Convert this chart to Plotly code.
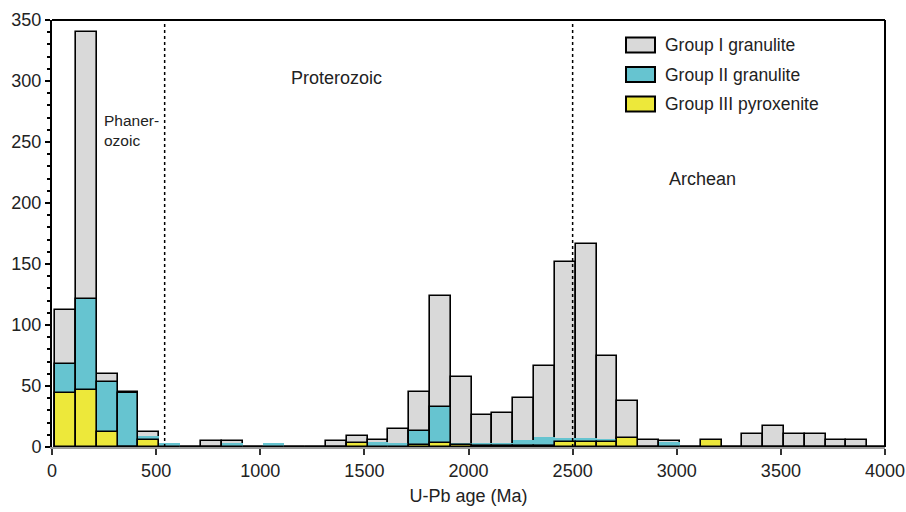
import plotly.graph_objects as go

# ---- data ----
bin_start = list(range(0, 4000, 100))  # U-Pb age bins (Ma), 100 Ma wide

group1 = [112, 340, 60, 45, 12, 0, 0, 5, 5, 0,
          0, 0, 0, 5, 9, 6, 15, 45, 124, 57,
          26, 28, 40, 66, 152, 166, 75, 38, 6, 5,
          0, 0, 0, 11, 17, 11, 11, 6, 6, 0]
group2 = [68, 121, 53, 44, 9, 3.5, 0, 0, 3.5, 0,
          3.5, 0, 0, 0, 0, 4, 3.5, 13, 33, 3,
          3, 3, 6, 8, 7, 7, 6.5, 0, 0, 4,
          0, 0, 0, 0, 0, 0, 0, 0, 0, 0]
group3 = [44, 47, 12, 0, 6, 0, 0, 0, 0, 0,
          0, 0, 0, 0, 3, 0, 0, 1.5, 3, 2,
          1, 1, 1, 1, 4, 4, 4, 7, 0, 0,
          0, 6, 0, 0, 0, 0, 0, 0, 0, 0]

series_names = ["Group I granulite", "Group II granulite", "Group III pyroxenite"]
eon_bounds = [541, 2500]
x_ticks = [0, 500, 1000, 1500, 2000, 2500, 3000, 3500, 4000]
y_ticks = [0, 50, 100, 150, 200, 250, 300, 350]

# ---- styles ----
colors = ["#d9d9d9", "#66c4d0", "#ede83a"]
FONT = "Liberation Sans, Arial, sans-serif"
BAR_SHIFT = 15


def outline_widths(vals, thresh):
    return [1.6 if v >= thresh else 0 for v in vals]


fig = go.Figure()
for vals, name, col, th in zip([group1, group2, group3], series_names, colors, [0, 10, 0]):
    fig.add_trace(go.Bar(
        x=bin_start, y=vals, width=100, offset=BAR_SHIFT, name=name,
        marker=dict(color=col, line=dict(color="black", width=outline_widths(vals, th))),
        showlegend=False,
    ))

# eon boundaries
for b in eon_bounds:
    fig.add_shape(type="line", xref="x", yref="y", x0=b, x1=b, y0=0, y1=350,
                  line=dict(color="black", width=1.5, dash="dot"))

# frame top / right
fig.add_shape(type="line", xref="paper", yref="paper", x0=0, x1=1, y0=1, y1=1,
              line=dict(color="black", width=2))
fig.add_shape(type="line", xref="paper", yref="paper", x0=1, x1=1, y0=0, y1=1,
              line=dict(color="black", width=2))

# manual legend
PW, PH, L, T = 833.0, 427.0, 52.0, 20.0
rows_y = [45, 74.5, 104]
for name, col, ry in zip(series_names, colors, rows_y):
    fig.add_shape(type="rect", xref="paper", yref="paper",
                  x0=(626 - L) / PW, x1=(655 - L) / PW,
                  y0=(447 - (ry + 7.5)) / PH, y1=(447 - (ry - 7.5)) / PH,
                  fillcolor=col, line=dict(color="black", width=2))
    fig.add_annotation(xref="paper", yref="paper", x=(663 - L) / PW, y=(447 - ry) / PH,
                       text=name, showarrow=False, xanchor="left", yanchor="middle",
                       font=dict(size=17.5, color="#222", family=FONT))

# eon labels
fig.add_annotation(xref="paper", yref="paper", x=(102 - L) / PW, y=(447 - 130) / PH,
                   text="Phaner-<br>ozoic", showarrow=False, xanchor="left", yanchor="middle",
                   align="left", font=dict(size=15.5, color="#222", family=FONT))
fig.add_annotation(xref="paper", yref="paper", x=(336 - L) / PW, y=(447 - 78) / PH,
                   text="Proterozoic", showarrow=False, xanchor="center", yanchor="middle",
                   font=dict(size=18, color="#222", family=FONT))
fig.add_annotation(xref="paper", yref="paper", x=(702 - L) / PW, y=(447 - 179) / PH,
                   text="Archean", showarrow=False, xanchor="center", yanchor="middle",
                   font=dict(size=18, color="#222", family=FONT))

fig.update_layout(
    width=906, height=512,
    margin=dict(l=52, r=21, t=20, b=65),
    paper_bgcolor="white", plot_bgcolor="white",
    barmode="overlay", bargap=0,
    font=dict(family=FONT, size=18, color="#222"),
    showlegend=False,
)
fig.update_xaxes(
    range=[0, 4000], tickvals=x_ticks, ticktext=[str(v) for v in x_ticks],
    showgrid=False, zeroline=False, automargin=False,
    showline=True, linecolor="#9a9a9a", linewidth=2,
    ticks="outside", ticklen=6, tickwidth=2, tickcolor="#333",
    title=dict(text="U-Pb age (Ma)", standoff=10, font=dict(size=18)),
    tickfont=dict(size=18),
)
fig.update_yaxes(
    range=[0, 350], tickvals=y_ticks, ticktext=[str(v) for v in y_ticks],
    showgrid=False, zeroline=False, automargin=False,
    showline=True, linecolor="black", linewidth=2,
    ticks="outside", ticklen=5, tickwidth=2, tickcolor="black",
    minor=dict(dtick=10, ticks="outside", ticklen=3, tickwidth=1.5, tickcolor="black"),
    tickfont=dict(size=18),
)

fig.write_html("out.html")
